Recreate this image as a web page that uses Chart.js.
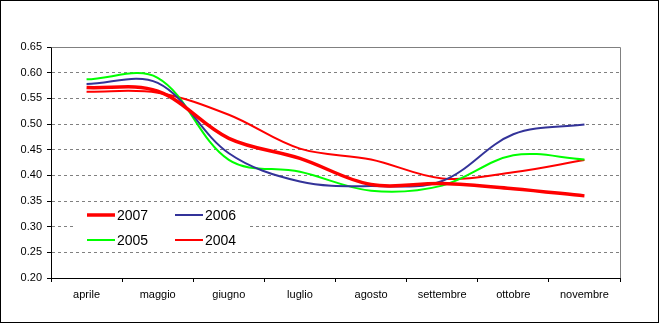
<!DOCTYPE html>
<html>
<head>
<meta charset="utf-8">
<script src="https://cdn.jsdelivr.net/npm/chart.js@4/dist/chart.umd.min.js"></script>
<style>
  html, body { margin: 0; padding: 0; background: #fff; }
  #wrap { width: 659px; height: 323px; }
</style>
</head>
<body>
<div id="wrap"><canvas id="grafico" width="659" height="323"></canvas></div>
<script>
// mesi e valori per anno
const mesi = ['aprile', 'maggio', 'giugno', 'luglio', 'agosto', 'settembre', 'ottobre', 'novembre'];
const anni = ['2007', '2006', '2005', '2004'];
const valori2007 = [0.571, 0.564, 0.472, 0.433, 0.382, 0.384, 0.374, 0.360];
const valori2006 = [0.578, 0.580, 0.443, 0.388, 0.379, 0.389, 0.480, 0.499];
const valori2005 = [0.587, 0.590, 0.430, 0.407, 0.370, 0.380, 0.439, 0.431];
const valori2004 = [0.563, 0.561, 0.518, 0.452, 0.431, 0.394, 0.406, 0.430];
const assey = { min: 0.20, max: 0.65, passo: 0.05 };

const FONT = "'Liberation Sans', Arial, sans-serif";
Chart.defaults.font.family = FONT;
Chart.defaults.color = '#000';

// cornice esterna, bordo del grafico e legenda dentro l'area
const cornice = {
  id: 'cornice',
  afterDraw(chart) {
    const { ctx, chartArea: a } = chart;
    ctx.save();
    ctx.strokeStyle = '#808080';
    ctx.lineWidth = 1;
    ctx.beginPath();
    ctx.moveTo(Math.round(a.left) + 0.5, Math.round(a.top) + 0.5);
    ctx.lineTo(Math.round(a.right) + 0.5, Math.round(a.top) + 0.5);
    ctx.lineTo(Math.round(a.right) + 0.5, Math.round(a.bottom));
    ctx.stroke();

    // legenda su due colonne
    ctx.fillStyle = '#fff';
    ctx.fillRect(73, 205, 176, 45);
    const ds = chart.data.datasets;
    ds.forEach((d, i) => {
      const col = i % 2, riga = Math.floor(i / 2);
      const x = 87 + col * 88, y = 215 + riga * 25;
      ctx.strokeStyle = d.borderColor;
      ctx.lineWidth = d.borderWidth;
      ctx.beginPath();
      ctx.moveTo(x, y);
      ctx.lineTo(x + 28, y);
      ctx.stroke();
      ctx.fillStyle = '#000';
      ctx.font = '14px ' + FONT;
      ctx.textBaseline = 'alphabetic';
      ctx.fillText(d.label, x + 30, y + 5);
    });

    ctx.strokeStyle = '#000';
    ctx.lineWidth = 1;
    ctx.strokeRect(0.5, 0.5, chart.width - 1, chart.height - 1);
    ctx.restore();
  }
};

const serie = [valori2007, valori2006, valori2005, valori2004];
const colori = ['#ff0000', '#333399', '#00ff00', '#ff0000'];
const spessori = [3.5, 2, 2, 2];

new Chart(document.getElementById('grafico'), {
  type: 'line',
  data: {
    labels: mesi,
    datasets: serie.map((v, i) => ({
      label: anni[i],
      data: v,
      borderColor: colori[i],
      borderWidth: spessori[i],
      pointRadius: 0,
      tension: 0.35,
      fill: false
    }))
  },
  options: {
    responsive: false,
    animation: false,
    layout: { padding: { top: 47, right: 39, left: 0, bottom: 0 } },
    plugins: { legend: { display: false }, tooltip: { enabled: false } },
    scales: {
      x: {
        offset: true,
        grid: { offset: true, drawOnChartArea: false, tickLength: 4, tickColor: '#000' },
        border: { color: '#000' },
        ticks: { padding: 6, font: { size: 11 }, maxRotation: 0, autoSkip: false },
        afterFit: s => { s.height = 45; }
      },
      y: {
        min: assey.min,
        max: assey.max,
        grid: { color: '#808080', tickLength: 4, tickColor: '#000' },
        border: { color: '#000', dash: [3, 3] },
        ticks: { stepSize: assey.passo, padding: 5, font: { size: 11 }, callback: v => v.toFixed(2) },
        afterFit: s => { s.width = 51; }
      }
    }
  },
  plugins: [cornice]
});
</script>
</body>
</html>
